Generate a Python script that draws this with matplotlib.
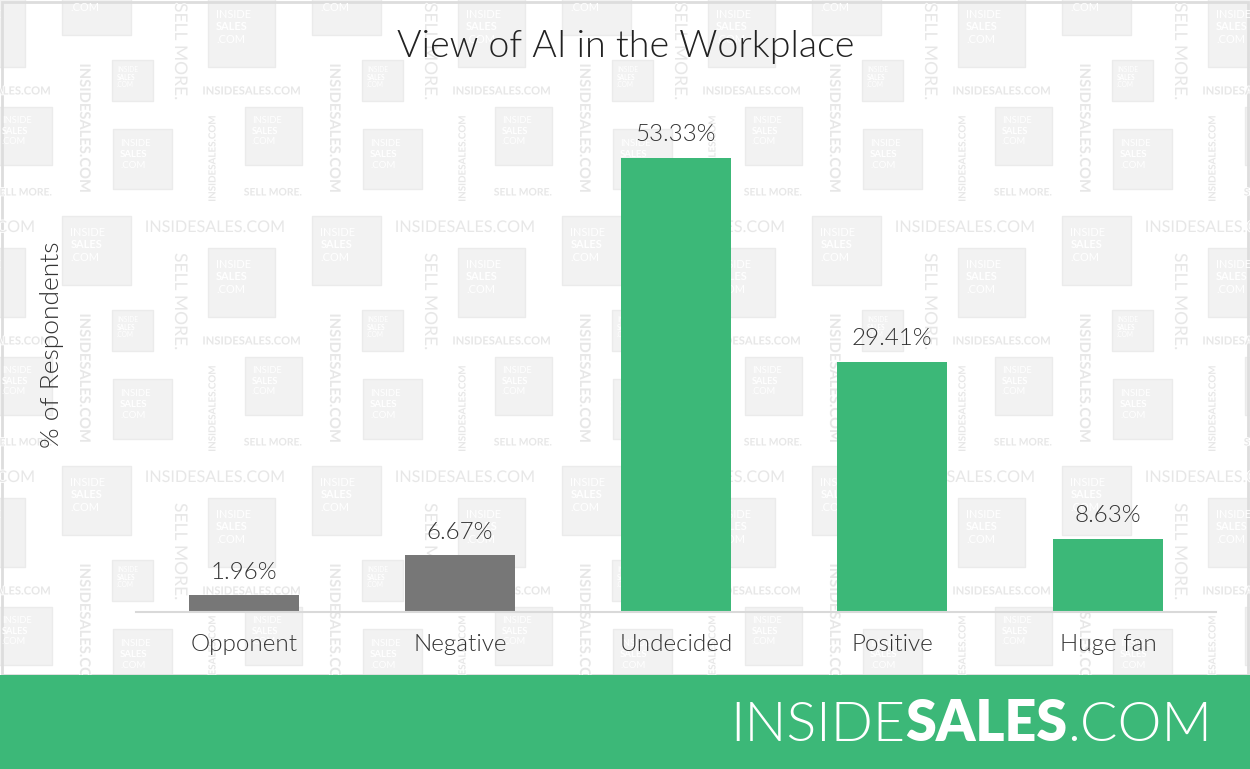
import matplotlib
matplotlib.use("Agg")
import matplotlib.pyplot as plt
from matplotlib.patches import Rectangle
import matplotlib.patheffects as pe

plt.rcParams['font.family'] = ['Lato', 'DejaVu Sans']

categories = ["Opponent", "Negative", "Undecided", "Positive", "Huge fan"]
values = [1.96, 6.67, 53.33, 29.41, 8.63]
labels = ["1.96%", "6.67%", "53.33%", "29.41%", "8.63%"]

GREEN = "#3cb878"
GRAY = "#777777"
bar_colors = [GRAY, GRAY, GREEN, GREEN, GREEN]

W, H = 1250, 769
fig = plt.figure(figsize=(W / 100, H / 100), dpi=100)
renderer = fig.canvas.get_renderer()


def fit(t, length, vertical=False):
    bb = t.get_window_extent(renderer)
    size = bb.height if vertical else bb.width
    t.set_fontsize(t.get_fontsize() * length / size)
    return t


# watermark background, pixel coordinates (y down)
bg = fig.add_axes([0, 94 / H, 1, 675 / H], zorder=0)
bg.set_xlim(0, W)
bg.set_ylim(675, 0)
bg.axis("off")

TILE = 250
boxes = [(62, 216, 69, 69), (208, -2, 67, 69), (112, 60, 41, 41),
         (245, 107, 57, 58), (113, 129, 59, 60)]
# text, cx, cy, length, rotation, weight
marks = [("INSIDESALES.COM", 84, 128, 129, -90, "bold"),
         ("SELL MORE.", 180, 52, 97, -90, "normal"),
         ("INSIDESALES.COM", 213, 159, 86, 90, "bold"),
         ("INSIDESALES.COM", 251, 91, 98, 0, "bold"),
         ("SELL MORE.", 273, 193, 58, 0, "bold"),
         ("INSIDESALES.COM", 215, 228, 140, 0, "normal")]
WM = "#e7e7e7"
BOX = "#f2f2f2"
emboss = [pe.withStroke(linewidth=1.2, foreground="white")]

for tx in range(-1, 6):
    for ty in range(-1, 4):
        ox, oy = tx * TILE, ty * TILE
        for x0, y0, w, h in boxes:
            if ox + x0 > W or ox + x0 + w < 0 or oy + y0 > 675 or oy + y0 + h < 0:
                continue
            bg.add_patch(Rectangle((ox + x0, oy + y0), w, h, facecolor=BOX,
                                   edgecolor="#ebebeb", lw=1, clip_on=True))
            fs = 0.16 * h * 0.72
            for frac, word, wt in [(0.24, "INSIDE", "normal"),
                                   (0.42, "SALES", "bold"),
                                   (0.60, ".COM", "normal")]:
                bg.text(ox + x0 + 0.12 * w, oy + y0 + frac * h, word,
                        color="white", fontsize=fs, fontweight=wt,
                        ha="left", va="center", clip_on=True)
        for s, cx, cy, ln, rot, wt in marks:
            if not (-40 < ox + cx < W + 40 and -40 < oy + cy < 715):
                continue
            t = bg.text(ox + cx, oy + cy, s, color=WM, fontsize=8,
                        fontweight=wt, rotation=rot, ha="center",
                        va="center", clip_on=True, path_effects=emboss)
            fit(t, ln, vertical=(rot != 0))

bg.add_patch(Rectangle((2, 2), W - 4, 673, facecolor="none",
                       edgecolor="#dddddd", lw=2, clip_on=False))

# footer band and logo
fig.patches.append(Rectangle((0, 0), 1, 94 / H, transform=fig.transFigure,
                             facecolor=GREEN, edgecolor="none", zorder=0))
parts = [("INSIDE", 300), ("SALES", "heavy"), (".COM", 300)]
x = 730
texts = []
for word, wt in parts:
    t = fig.text(x / W, 1 - 741 / H, word, color="white", fontsize=38,
                 fontweight=wt, ha="left", va="baseline")
    x += t.get_window_extent(renderer).width
    texts.append(t)
scale = (1213 - 730) / (x - 730)
x = 730
for t in texts:
    t.set_fontsize(38 * scale)
    t.set_x(x / W)
    x += t.get_window_extent(renderer).width

# chart
ax = fig.add_axes([136 / W, (H - 612) / H, 1080 / W, 510.8 / H], zorder=1)
ax.set_facecolor("none")
pos = range(len(categories))
bars = ax.bar(pos, values, width=0.505, color=bar_colors, zorder=2)
for b, lab in zip(bars, labels):
    ax.annotate(lab, (b.get_x() + b.get_width() / 2, b.get_height()),
                xytext=(0, 12), textcoords="offset points", ha="center",
                va="baseline", fontsize=17.4, fontweight=300, color="#333333")
ax.set_xlim(-0.5, len(categories) - 0.5)
ax.set_ylim(0, 60)
ax.set_xticks(list(pos))
ax.set_xticklabels(categories, fontsize=17.5, fontweight=300, color="#333333")
ax.tick_params(axis="x", length=0, pad=16)
ax.set_yticks([])
for side in ["top", "left", "right"]:
    ax.spines[side].set_visible(False)
ax.spines["bottom"].set_color("#d9d9d9")
ax.spines["bottom"].set_linewidth(1.5)

fig.text(626 / W, 1 - 47 / H, "View of AI in the Workplace", ha="center",
         va="center", fontsize=27, fontweight=300, color="#222222")
fig.text(52 / W, 1 - 345 / H, "% of Respondents", ha="center", va="center",
         rotation=90, fontsize=19, fontweight=300, color="#333333")

fig.savefig("out.png", dpi=100)
